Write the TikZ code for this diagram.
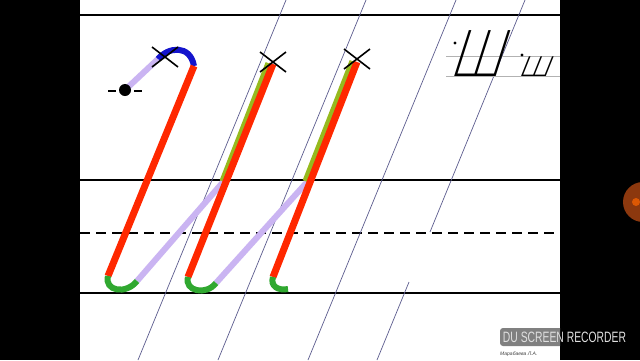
\documentclass[tikz,border=0pt]{standalone}
\usepackage{fontspec}
\setmainfont{Liberation Sans}
\newfontfamily\samplefont[FakeSlant=0.4]{DejaVuSans-ExtraLight.ttf}
\usetikzlibrary{calc}
\definecolor{strokered}{RGB}{255,40,0}
\definecolor{hookgreen}{RGB}{48,168,48}
\definecolor{arcblue}{RGB}{20,20,205}
\definecolor{joinlilac}{RGB}{202,180,242}
\definecolor{overolive}{RGB}{150,186,30}
\definecolor{slantgray}{RGB}{92,92,142}
\definecolor{btnorange}{RGB}{140,56,14}
\definecolor{recgray}{RGB}{128,128,128}

\tikzset{
  rule/.style={line width=2.4pt,black},
  midrule/.style={line width=2pt,black,dash pattern=on 10pt off 6pt},
  slant/.style={line width=0.7pt,slantgray},
  redstroke/.style={line width=7pt,strokered},
  greenhook/.style={line width=6pt,hookgreen},
  lilacjoin/.style={line width=6pt,joinlilac},
  olivestroke/.style={line width=5pt,overolive},
  bluearc/.style={line width=6pt,arcblue},
  crossmark/.style={line width=1.6pt,black},
  guide/.style={line width=0.8pt,black!30}
}

\begin{document}
\begin{tikzpicture}[x=1pt,y=-1pt]
\path[use as bounding box] (0,0) rectangle (640,360);
\clip (0,0) rectangle (640,360);
\fill[black] (0,0) rectangle (640,360);
\fill[white] (80,0) rectangle (560,360);

% ruling
\foreach \ry in {15,180,293}
  \draw[rule] (80,\ry) -- (560,\ry);
\draw[midrule] (80,233) -- (560,233);
\foreach \bx/\tx in {138/286,218/366,308/456}
  \draw[slant] (\bx,360) -- (\tx,0);
\draw[slant] (430,232) -- (525,0);
\draw[slant] (377,360) -- (409,282);

% sample
\draw[guide] (446,56) -- (560,56);
\draw[guide] (446,76) -- (560,76);
\node (capsample) [anchor=base west,inner sep=0pt,font=\samplefont\fontsize{63}{63}\selectfont] at (448,76) {\scalebox{0.8}[1]{Ш}};
\node (smallsample) [anchor=base west,inner sep=0pt,font=\samplefont\fontsize{36}{36}\selectfont] at (517,76) {ш};
\fill (455,43) circle (1.6);
\fill (522,55) circle (1.6);

% first stroke
\coordinate (dotA) at (125,90);
\coordinate (arcA) at (158,59);
\coordinate (topA) at (194,66);
\coordinate (footA) at (108,276);
\coordinate (hookA) at (137,281);
\coordinate (joinA) at (224,181);
\draw[line width=1.8pt] (108,91) -- (116,91) (134,91) -- (142,91);
\draw[lilacjoin] (dotA) -- (arcA);
\draw[bluearc] (arcA) .. controls (168,47) and (190,44) .. (topA);
\draw[redstroke] (topA) -- (footA);
\draw[lilacjoin] (hookA) -- (joinA);
\draw[greenhook] (footA) .. controls (104,291) and (126,295) .. (hookA);
\fill (dotA) circle (6);

% second stroke
\coordinate (topB) at (273,64);
\coordinate (footB) at (188,277);
\coordinate (hookB) at (216,283);
\coordinate (joinB) at (308,181);
\draw[olivestroke] (268,63) -- (222,181);
\draw[redstroke] (topB) -- (footB);
\draw[lilacjoin] (hookB) -- (joinB);
\draw[greenhook] (footB) .. controls (184,291) and (206,296) .. (hookB);

% third stroke
\coordinate (topC) at (357,62);
\coordinate (footC) at (273,277);
\coordinate (hookC) at (288,289);
\draw[olivestroke] (352,61) -- (305,181);
\draw[redstroke] (topC) -- (footC);
\draw[greenhook] (footC) .. controls (270,286) and (278,291) .. (hookC);

% start marks
\foreach \cx/\cy [count=\k] in {165/57,273/62,357/59}
  \draw[crossmark] (\cx-13,\cy-10) -- (\cx+13,\cy+10) (\cx-13,\cy+10) -- (\cx+13,\cy-10);

% recorder overlay
\fill[btnorange] (643,202) circle (20);
\fill[orange!80!red,opacity=0.7] (636,202) circle (4);
\fill[recgray,rounded corners=3pt] (560,328) -- (500,328) -- (500,346) -- (560,346);
\node (rectext) [text=white!88!black,inner sep=0pt,font=\fontsize{15}{15}\selectfont] at (564.5,337.5) {\scalebox{0.69}[1]{DU SCREEN RECORDER}};
\node (author) [anchor=west,inner sep=0pt,text=black!75,font=\fontsize{5}{5}\selectfont\itshape] at (500,354) {Марабаева Л.А.};
\end{tikzpicture}
\end{document}
